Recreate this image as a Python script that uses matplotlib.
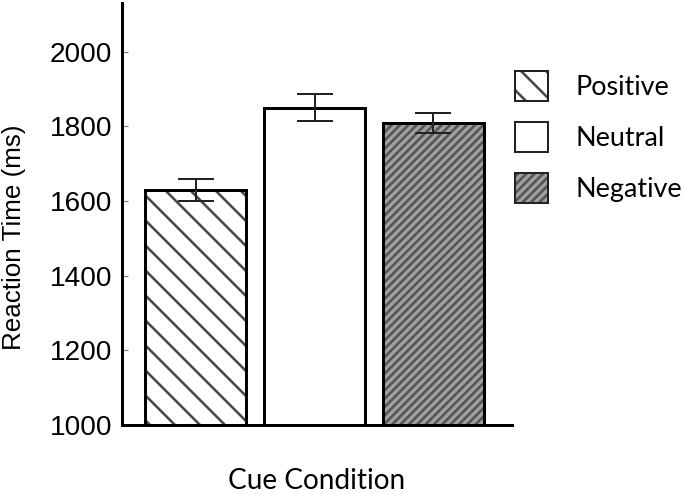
import matplotlib
matplotlib.use("Agg")
import matplotlib.pyplot as plt
from matplotlib.patches import Patch

# %% data
conditions = ["Positive", "Neutral", "Negative"]
mean_rt = [1629, 1850, 1809]
sem_rt = [29, 37, 27]
yticks = [1000, 1200, 1400, 1600, 1800, 2000]

# %% styles
DPI = 150
PT = 72 / DPI  # px -> pt
hatches = ["\\\\", "", "//////"]
faces = ["white", "white", "#a0a0a0"]
hatch_cols = ["#4a4a4a", "white", "#555555"]

plt.rcParams["hatch.linewidth"] = 2.6 * PT
plt.rcParams["font.family"] = ["Liberation Sans", "DejaVu Sans"]

fig = plt.figure(figsize=(685 / DPI, 494 / DPI), dpi=DPI)
ax = fig.add_axes([122 / 685, 1 - 425 / 494, 390 / 685, 422 / 494])

x = list(range(len(conditions)))
width = 0.849
# hatch layer, then black outline on top
for xi, v, fc, hc, h in zip(x, mean_rt, faces, hatch_cols, hatches):
    ax.bar(xi, v - 1000, width, bottom=1000, color=fc, edgecolor=hc, hatch=h, linewidth=0, zorder=2)
ax.bar(x, [v - 1000 for v in mean_rt], width, bottom=1000, fill=False,
       edgecolor="black", linewidth=3 * PT, zorder=3)
ax.errorbar(x, mean_rt, yerr=sem_rt, fmt="none", ecolor="#222222",
            elinewidth=2 * PT, capsize=18 * PT, capthick=2 * PT, zorder=4)

ax.set_xlim(-0.618, 2.66)
ax.set_ylim(1000, 2130)
ax.set_yticks(yticks)
ax.set_xticks([])
ax.tick_params(axis="y", direction="in", length=6 * PT, width=1.2 * PT, color="#777777",
               pad=10 * PT, labelsize=28 * PT)
for s in ["top", "right"]:
    ax.spines[s].set_visible(False)
for s in ["left", "bottom"]:
    ax.spines[s].set_linewidth(3 * PT)

ax.set_ylabel("Reaction Time (ms)", fontsize=26 * PT, va="center")
ax.yaxis.set_label_coords(-0.277, 0.445)
ax.set_xlabel("Cue Condition", fontsize=28 * PT, family=["Lato", "DejaVu Sans"], va="center")
ax.xaxis.set_label_coords(0.499, -0.133)

# legend: hatched patch + black outline overlaid
handles = []
for fc, hc, h in zip(faces, hatch_cols, hatches):
    handles.append((Patch(facecolor=fc, edgecolor=hc, hatch=h, linewidth=0),
                    Patch(fill=False, edgecolor="#222222", linewidth=2 * PT)))
leg_px = 27
fig.legend(handles, conditions, loc="upper left", bbox_to_anchor=(515 / 685, 1 - 71 / 494),
           frameon=False, borderpad=0, borderaxespad=0, handlelength=33 / leg_px,
           handleheight=36 / leg_px, labelspacing=21 / leg_px, handletextpad=28 / leg_px,
           prop={"family": ["Lato", "DejaVu Sans"], "size": leg_px * PT})

fig.savefig("out.png", dpi=DPI)
